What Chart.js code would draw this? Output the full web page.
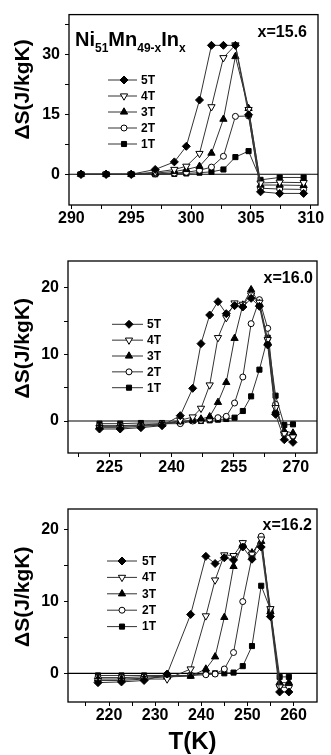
<!DOCTYPE html>
<html lang="en">
<head>
<meta charset="UTF-8">
<title>Ni51Mn49-xInx entropy change</title>
<script src="https://cdn.jsdelivr.net/npm/chart.js@4.4.1/dist/chart.umd.min.js"></script>
<style>
    body { margin: 0; background: #fff; width: 331px; height: 755px; position: relative; overflow: hidden;
           font-family: "Liberation Sans", Arial, sans-serif; }
    canvas { position: absolute; left: 0; }
    .lbl { position: absolute; font-weight: bold; color: #000; white-space: nowrap; line-height: 1; }
    .lbl sub { font-size: 12px; vertical-align: -6px; line-height: 0; }
</style>
</head>
<body>
<canvas id="c156" width="331" height="240" style="top:0"></canvas>
<canvas id="c160" width="331" height="250" style="top:240px"></canvas>
<canvas id="c162" width="331" height="265" style="top:490px"></canvas>

<div class="lbl" style="left:75px; top:29px; font-size:20px">Ni<sub>51</sub>Mn<sub>49-x</sub>In<sub>x</sub></div>
<div class="lbl" style="right:24px; top:23.5px; font-size:16px">x=15.6</div>
<div class="lbl" style="right:18px; top:269.5px; font-size:16px">x=16.0</div>
<div class="lbl" style="right:19px; top:516.5px; font-size:16px">x=16.2</div>

<script>
    const fields = ['5T', '4T', '3T', '2T', '1T'];

    // x = 15.6
    const temp156 = [290.8, 292.9, 295.0, 297.0, 298.6, 299.6, 300.7, 301.7, 302.7, 303.7, 304.8, 305.8, 307.4, 309.4];
    const dS156_5T = [0, 0, 0, 1.2, 3.1, 7.0, 18.6, 32.3, 32.3, 32.3, 14.9, -4.4, -4.8, -4.8];
    const dS156_4T = [0, 0, 0, 0.5, 1.2, 2.0, 5.2, 16.9, 29.2, 32.4, 16.2, -2.2, -2.0, -2.1];
    const dS156_3T = [0, 0, 0, 0.3, 0.7, 1.2, 2.0, 5.3, 13.8, 29.5, 16.5, -2.7, -2.7, -2.8];
    const dS156_2T = [0, 0, 0, 0.1, 0.3, 0.5, 1.0, 1.8, 4.5, 14.5, 14.6, -3.5, -3.7, -3.8];
    const dS156_1T = [0, 0, 0, 0, 0.1, 0.2, 0.4, 0.6, 1.2, 4.3, 5.8, -1.4, -0.8, -0.8];
    const xTicks156 = [290, 295, 300, 305, 310];
    const xMinor156 = [292.5, 297.5, 302.5, 307.5];
    const yTicks156 = [0, 15, 30];
    const yMinor156 = [7.5, 22.5, 37.5];

    // x = 16.0
    const temp160 = [222.6, 227.6, 232.6, 237.7, 242.1, 245.1, 247.1, 249.2, 251.2, 253.2, 255.2, 257.2, 259.2, 261.2, 263.2, 265.1, 267.2, 269.3];
    const dS160_5T = [-1.2, -1.2, -1.0, -0.7, 0.8, 4.9, 11.6, 15.9, 17.9, 16.1, 17.3, 17.1, 18.4, 17.2, 11.4, 1.0, -2.8, -3.2];
    const dS160_4T = [-1.0, -1.0, -0.8, -0.6, 0.1, 0.6, 1.9, 5.4, 12.5, 15.5, 17.7, 17.5, 18.9, 17.8, 12.2, 2.0, -1.9, -2.4];
    const dS160_3T = [-0.8, -0.8, -0.7, -0.5, -0.1, 0.1, 0.3, 0.65, 2.8, 5.8, 12.4, 17.4, 19.7, 17.6, 11.8, 1.5, -1.5, -1.8];
    const dS160_2T = [-0.7, -0.7, -0.6, -0.4, -0.4, 0.0, 0.1, 0.3, 0.5, 0.7, 2.7, 6.6, 14.6, 18.2, 13.9, 2.5, -2.0, -2.3];
    const dS160_1T = [-0.4, -0.4, -0.3, -0.3, -0.1, 0.0, 0.0, 0.1, 0.2, 0.3, 0.5, 1.5, 3.7, 7.7, 12.5, 3.8, -0.6, -0.5];
    const xTicks160 = [225, 240, 255, 270];
    const xMinor160 = [217.5, 232.5, 247.5, 262.5];
    const yTicks160 = [0, 10, 20];
    const yMinor160 = [5, 15];

    // x = 16.2
    const temp162 = [217.6, 222.7, 227.6, 232.6, 237.7, 241.0, 243.0, 245.0, 247.0, 249.0, 251.0, 253.0, 255.0, 257.0, 259.0];
    const dS162_5T = [-1.3, -1.2, -1.0, -0.1, 8.2, 16.3, 15.3, 16.1, 15.8, 17.6, 15.9, 17.6, 7.9, -2.6, -2.6];
    const dS162_4T = [-1.0, -1.0, -0.8, -0.8, 0.6, 8.0, 13.0, 16.5, 16.4, 18.2, 16.6, 18.7, 9.0, -1.9, -2.0];
    const dS162_3T = [-0.8, -0.8, -0.7, -0.5, -0.4, 0.6, 2.3, 7.8, 14.9, 18.0, 16.8, 18.4, 8.6, -1.3, -1.3];
    const dS162_2T = [-0.6, -0.6, -0.5, -0.4, -0.3, -0.2, -0.1, 0.6, 2.9, 10.0, 16.2, 19.1, 8.4, -1.7, -1.6];
    const dS162_1T = [-0.3, -0.3, -0.3, -0.3, -0.3, 0.0, 0.0, 0.0, 0.1, 1.0, 3.8, 12.2, 8.9, -0.5, -0.5];
    const xTicks162 = [220, 230, 240, 250, 260];
    const xMinor162 = [215, 225, 235, 245, 255];
    const yTicks162 = [0, 10, 20];
    const yMinor162 = [5, 15];

    const FONT = '"Liberation Sans", Arial, sans-serif';

    // marker look for each field
    const markers = {
        '5T': { pointStyle: 'rectRot', rotation: 0, radius: 4, fill: '#000' },
        '4T': { pointStyle: 'triangle', rotation: 180, radius: 4.2, fill: '#fff' },
        '3T': { pointStyle: 'triangle', rotation: 0, radius: 4.2, fill: '#000' },
        '2T': { pointStyle: 'circle', rotation: 0, radius: 3, fill: '#fff' },
        '1T': { pointStyle: 'rect', rotation: 0, radius: 3.6, fill: '#000' }
    };

    function drawMarker(ctx, m, x, y) {
        ctx.save();
        ctx.fillStyle = m.fill;
        ctx.strokeStyle = '#000';
        ctx.lineWidth = 1;
        if (Chart.helpers && Chart.helpers.drawPoint) {
            Chart.helpers.drawPoint(ctx, { pointStyle: m.pointStyle, rotation: m.rotation, radius: m.radius, borderWidth: 1 }, x, y);
        } else {
            ctx.beginPath();
            ctx.arc(x, y, m.radius, 0, Math.PI * 2);
            ctx.fill();
            ctx.stroke();
        }
        ctx.restore();
    }

    // zero line, box around the plot and the field legend
    const framePlugin = {
        id: 'frame',
        beforeDatasetsDraw(chart) {
            const { ctx, chartArea: a } = chart;
            const y0 = chart.scales.y.getPixelForValue(0);
            ctx.save();
            ctx.strokeStyle = '#000';
            ctx.lineWidth = 1.2;
            ctx.beginPath();
            ctx.moveTo(a.left, y0);
            ctx.lineTo(a.right, y0);
            ctx.stroke();
            ctx.restore();
        },
        afterDatasetsDraw(chart, args, opts) {
            const { ctx, chartArea: a } = chart;
            ctx.save();
            ctx.strokeStyle = '#000';
            ctx.lineWidth = 1.3;
            ctx.strokeRect(a.left, a.top, a.right - a.left, a.bottom - a.top);

            ctx.font = 'bold 12px ' + FONT;
            ctx.fillStyle = '#000';
            ctx.textBaseline = 'middle';
            fields.forEach((f, i) => {
                const yy = opts.y + i * opts.dy;
                ctx.strokeStyle = '#333';
                ctx.lineWidth = 1;
                ctx.beginPath();
                ctx.moveTo(opts.x0, yy);
                ctx.lineTo(opts.x1, yy);
                ctx.stroke();
                drawMarker(ctx, markers[f], opts.mx, yy);
                ctx.fillText(f, opts.tx, yy + 0.5);
            });
            ctx.restore();
        }
    };

    function makePanel(id, temps, seriesList, p) {
        const datasets = fields.map((f, i) => ({
            label: f,
            data: temps.map((t, k) => ({ x: t, y: seriesList[i][k] })),
            borderColor: '#333',
            borderWidth: 1,
            pointStyle: markers[f].pointStyle,
            pointRotation: markers[f].rotation,
            pointRadius: markers[f].radius,
            pointBackgroundColor: markers[f].fill,
            pointBorderColor: '#000',
            pointBorderWidth: 1,
            tension: 0
        }));

        const canvas = document.getElementById(id);
        const H = canvas.height;

        new Chart(canvas, {
            type: 'line',
            data: { datasets: datasets },
            plugins: [framePlugin],
            options: {
                responsive: false,
                animation: false,
                events: [],
                layout: { padding: { top: p.top, right: 331 - p.right, left: 0, bottom: 0 } },
                plugins: {
                    legend: { display: false },
                    tooltip: { enabled: false },
                    frame: p.legend
                },
                scales: {
                    x: {
                        type: 'linear',
                        min: p.xMin,
                        max: p.xMax,
                        afterBuildTicks: s => { s.ticks = p.xMajor.concat(p.xMinor).map(v => ({ value: v })); },
                        afterFit: s => { s.height = H - p.bottom; },
                        ticks: {
                            autoSkip: false, maxRotation: 0, padding: p.xPad, color: '#000',
                            font: { family: FONT, size: 16, weight: 'bold' },
                            callback: v => p.xMajor.includes(v) ? String(v) : ''
                        },
                        grid: { drawOnChartArea: false, drawTicks: true, tickLength: 4, color: '#000' },
                        border: { display: false },
                        title: p.xTitle ? {
                            display: true, text: p.xTitle, color: '#000',
                            font: { family: FONT, size: 24, weight: 'bold', lineHeight: 1 },
                            padding: { top: 0, bottom: 1 }
                        } : { display: false }
                    },
                    y: {
                        min: p.yMin,
                        max: p.yMax,
                        afterBuildTicks: s => { s.ticks = p.yMajor.concat(p.yMinor).map(v => ({ value: v })); },
                        afterFit: s => { s.width = p.left; },
                        ticks: {
                            padding: 5, color: '#000',
                            font: { family: FONT, size: 16, weight: 'bold' },
                            callback: v => p.yMajor.includes(v) ? String(v) : ''
                        },
                        grid: { drawOnChartArea: false, drawTicks: true, tickLength: 4, color: '#000' },
                        border: { display: false },
                        title: {
                            display: true, text: p.yTitle, color: '#000',
                            font: { family: FONT, size: 21, weight: 'bold', lineHeight: 1.2 },
                            padding: { top: 11, bottom: 0 }
                        }
                    }
                }
            }
        });
    }

    makePanel('c156', temp156, [dS156_5T, dS156_4T, dS156_3T, dS156_2T, dS156_1T], {
        top: 13, bottom: 205, left: 69, right: 318,
        xMin: 289.8, xMax: 310.6, xMajor: xTicks156, xMinor: xMinor156, xPad: 0,
        yMin: -7.7, yMax: 40, yMajor: yTicks156, yMinor: yMinor156,
        yTitle: '       \u0394S(J/kgK)',
        legend: { x0: 108, x1: 137, mx: 124, tx: 141, y: 80, dy: 16 }
    });

    makePanel('c160', temp160, [dS160_5T, dS160_4T, dS160_3T, dS160_2T, dS160_1T], {
        top: 21, bottom: 213, left: 68, right: 317,
        xMin: 215, xMax: 275.1, xMajor: xTicks160, xMinor: xMinor160, xPad: 1,
        yMin: -4.8, yMax: 24, yMajor: yTicks160, yMinor: yMinor160,
        yTitle: '   \u0394S(J/kgK)',
        legend: { x0: 112, x1: 143, mx: 129, tx: 147, y: 84.3, dy: 15.85 }
    });

    makePanel('c162', temp162, [dS162_5T, dS162_4T, dS162_3T, dS162_2T, dS162_1T], {
        top: 19, bottom: 212, left: 68, right: 317,
        xMin: 211.1, xMax: 265.1, xMajor: xTicks162, xMinor: xMinor162, xPad: 0,
        yMin: -4.0, yMax: 22.9, yMajor: yTicks162, yMinor: yMinor162,
        yTitle: '   \u0394S(J/kgK)',
        xTitle: 'T(K)',
        legend: { x0: 107, x1: 137, mx: 122, tx: 142, y: 71, dy: 16.4 }
    });
</script>
</body>
</html>
